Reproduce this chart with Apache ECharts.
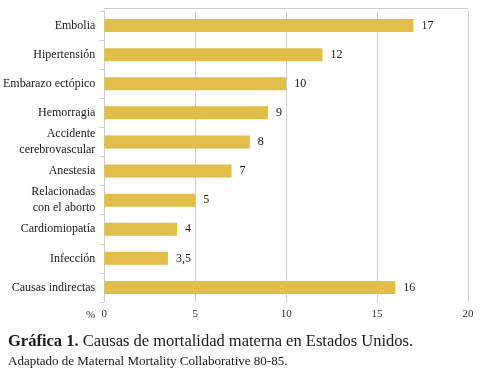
<!DOCTYPE html>
<html>
<head>
<meta charset="utf-8">
<script src="https://cdn.jsdelivr.net/npm/echarts@6/dist/echarts.min.js"></script>
<style>
  html, body { margin: 0; padding: 0; background: #fff; }
  #main { width: 484px; height: 376px; }
</style>
</head>
<body>
<div id="main"></div>
<script>
  // datos de la gráfica (de arriba hacia abajo)
  const causas = ['Embolia', 'Hipertensión', 'Embarazo ectópico', 'Hemorragia', 'Accidente\ncerebrovascular',
    'Anestesia', 'Relacionadas\ncon el aborto', 'Cardiomiopatía', 'Infección', 'Causas indirectas']
  const porcentajes = [17, 12, 10, 9, 8, 7, 5, 4, 3.5, 16]
  const ticksX = [0, 5, 10, 15, 20]

  const serif = '"Liberation Serif", "DejaVu Serif", serif'
  const gris = '#cfcfcf'

  const myChart = echarts.init(document.getElementById('main'))
  const option = {
    animation: false,
    textStyle: { fontFamily: serif },
    title: [{
      text: '{b|Gráfica 1.} Causas de mortalidad materna en Estados Unidos.',
      left: 3,
      top: 328,
      textStyle: {
        fontFamily: serif, fontSize: 16.5, fontWeight: 'normal', color: '#1a1a1a',
        rich: { b: { fontFamily: serif, fontSize: 16.5, fontWeight: 'bold', color: '#1a1a1a' } }
      }
    }, {
      text: 'Adaptado de Maternal Mortality Collaborative 80-85.',
      left: 3,
      top: 350,
      textStyle: { fontFamily: serif, fontSize: 13, fontWeight: 'normal', color: '#1a1a1a' }
    }],
    grid: { left: 100, right: 16, top: 11, bottom: 74, containLabel: false },
    xAxis: [{
      type: 'value',
      min: ticksX[0],
      max: ticksX[ticksX.length - 1],
      interval: 5,
      name: '%',
      nameLocation: 'start',
      nameGap: 9,
      nameTextStyle: { fontFamily: serif, fontSize: 11, color: '#333', verticalAlign: 'top', padding: [8, 0, 0, 0] },
      axisLine: { show: false },
      axisTick: { show: false },
      axisLabel: { fontFamily: serif, fontSize: 11, color: '#333', margin: 7 },
      splitLine: { show: true, lineStyle: { color: gris, width: 1 } }
    }, {
      type: 'value',
      position: 'top',
      offset: 3,
      min: 0,
      max: 20,
      axisLine: { show: true, lineStyle: { color: gris } },
      axisTick: { show: false },
      axisLabel: { show: false },
      splitLine: { show: false }
    }],
    yAxis: {
      type: 'category',
      inverse: true,
      data: causas,
      axisLine: { show: true, lineStyle: { color: gris } },
      axisTick: { show: true, length: 5, lineStyle: { color: gris } },
      axisLabel: { fontFamily: serif, fontSize: 12, color: '#1a1a1a', margin: 9, lineHeight: 16, align: 'right' }
    },
    series: [{
      type: 'bar',
      data: porcentajes,
      barWidth: 13,
      itemStyle: { color: '#E1BD4A' },
      label: {
        show: true,
        position: 'right',
        distance: 8,
        fontFamily: serif,
        fontSize: 12,
        color: '#1a1a1a',
        formatter: p => String(p.value).replace('.', ',')
      }
    }]
  }
  myChart.setOption(option)
</script>
</body>
</html>
